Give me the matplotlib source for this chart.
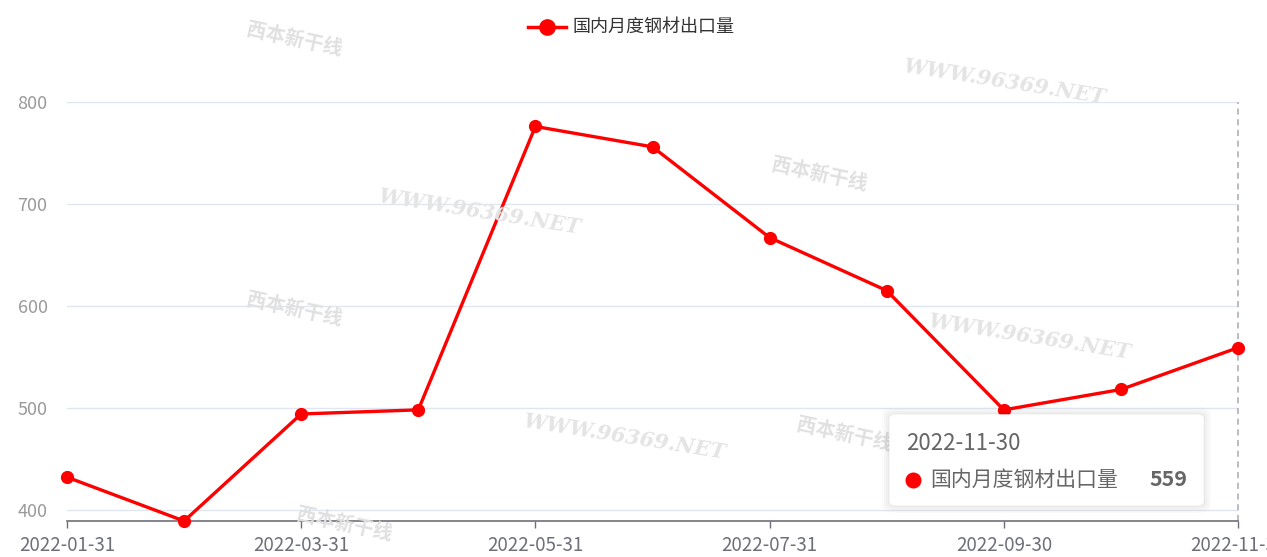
import matplotlib
matplotlib.use("Agg")
import matplotlib.pyplot as plt
from matplotlib.patches import FancyBboxPatch
from matplotlib.lines import Line2D

plt.rcParams['font.family'] = ['Noto Sans CJK SC', 'DejaVu Sans']

dates = ["2022-01-31", "2022-02-28", "2022-03-31", "2022-04-30", "2022-05-31", "2022-06-30",
         "2022-07-31", "2022-08-31", "2022-09-30", "2022-10-31", "2022-11-30"]
values = [432, 389, 494, 498, 776, 756, 667, 615, 498, 518, 559]
series_name = "国内月度钢材出口量"
y_ticks = [400, 500, 600, 700, 800]

W, H = 1267, 557
fig = plt.figure(figsize=(W / 100, H / 100), dpi=100)
L, R, T, B = 67, 1238, 102, 521
ax = fig.add_axes([L / W, 1 - B / H, (R - L) / W, (B - T) / H])

# watermarks
wm_url = [(1005, 82), (480, 212), (1030, 337), (625, 437)]
for (x, y) in wm_url:
    fig.text(x / W, 1 - y / H, "WWW.96369.NET", color="#e4e4e4", fontsize=15,
             family="DejaVu Serif", style="italic", weight="bold",
             rotation=-9, ha="center", va="center", zorder=0)
wm_logo = [(245, 40), (770, 175), (245, 310), (795, 435), (295, 525)]
for (x, y) in wm_logo:
    fig.text(x / W, 1 - y / H, "西本新干线", color="#e0e0e0", fontsize=14,
             style="italic", weight="bold", rotation=-12, ha="left", va="center", zorder=0)

x = list(range(len(dates)))
ax.plot(x, values, color="#ff0000", lw=2.4, marker="o", markersize=8.5,
        markerfacecolor="#ff0000", markeredgecolor="#ff0000", zorder=5, clip_on=False)

ax.set_xlim(0, len(dates) - 1)
ax.set_ylim(min(values), 800)
ax.set_yticks(y_ticks)
ax.set_yticklabels([str(v) for v in y_ticks])
ax.set_xticks(x[::2])
ax.set_xticklabels(dates[::2])
ax.patch.set_alpha(0)

for v in y_ticks:
    ax.axhline(v, color="#E0E6F1", lw=1, zorder=1)

for s in ["top", "right", "left"]:
    ax.spines[s].set_visible(False)
ax.spines["bottom"].set_color("#6E7079")
ax.spines["bottom"].set_linewidth(1.2)
ax.tick_params(axis="y", length=0, pad=14, labelsize=13, labelcolor="#9a9a9a")
ax.tick_params(axis="x", length=5, width=1, color="#6E7079", pad=5,
               labelsize=13.5, labelcolor="#6E7079")

# axis pointer
ax.axvline(len(dates) - 1 - 0.002, color="#a8a8b4", lw=1.1, ls=(0, (4, 3)), zorder=2, clip_on=False)

# legend
ly = 1 - 27 / H
fig.add_artist(Line2D([528 / W, 566 / W], [ly, ly], color="#ff0000", lw=2.5,
                      transform=fig.transFigure))
fig.add_artist(Line2D([547 / W], [ly], marker="o", markersize=11, color="#ff0000",
                      transform=fig.transFigure))
fig.text(573 / W, ly, series_name, fontsize=13, color="#333333", va="center", ha="left")

# tooltip
for i, a in enumerate([0.03, 0.025, 0.02, 0.015]):
    d = (i + 1) * 2
    fig.add_artist(FancyBboxPatch(((890 - d) / W, 1 - (505 + d) / H), (313 + 2 * d) / W, (90 + 2 * d) / H,
                                  boxstyle="round,pad=0,rounding_size=0.01", transform=fig.transFigure,
                                  facecolor="#000000", edgecolor="none", alpha=a, zorder=8))
fig.add_artist(FancyBboxPatch((890 / W, 1 - 505 / H), 313 / W, 90 / H,
                              boxstyle="round,pad=0,rounding_size=0.006", transform=fig.transFigure,
                              facecolor="white", edgecolor="#ffffff", zorder=9))
fig.text(906 / W, 1 - 443 / H, dates[-1], fontsize=16, color="#666666", va="center", ha="left", zorder=10)
fig.add_artist(Line2D([913 / W], [1 - 480 / H], marker="o", markersize=10.5, color="#ff0000",
                      transform=fig.transFigure, zorder=10))
fig.text(930 / W, 1 - 480 / H, series_name, fontsize=15, color="#666666", va="center", ha="left", zorder=10)
fig.text(1187 / W, 1 - 480 / H, str(values[-1]), fontsize=15.5, color="#666666", weight="bold",
         va="center", ha="right", zorder=10)

fig.savefig("out.png", dpi=100)
